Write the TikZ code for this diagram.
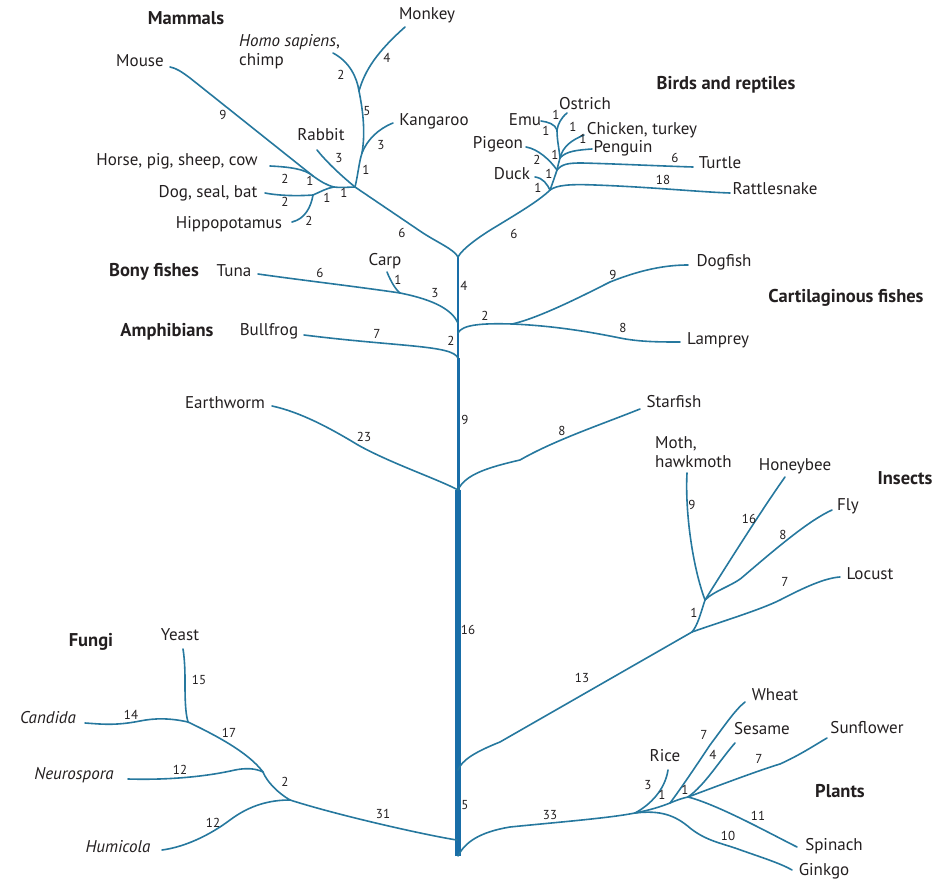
\documentclass[tikz,border=0pt]{standalone}
\usepackage{fontspec}
\setmainfont{PT Sans}
\definecolor{brc}{RGB}{38,120,158}
\definecolor{trc}{RGB}{25,110,168}
\definecolor{txc}{RGB}{35,31,32}
\begin{document}
\begin{tikzpicture}[x=1pt,y=-1pt,
  br/.style={draw=brc,line width=1.6pt,line cap=round},
  trunkseg/.style={draw=trc,line cap=butt},
  lf/.style={font=\fontsize{17}{19}\selectfont,anchor=mid,inner sep=0pt,text=txc},
  nm/.style={font=\fontsize{13}{14}\selectfont,anchor=mid,inner sep=0pt,text=txc},
  grp/.style={font=\bfseries\fontsize{18.5}{20}\selectfont,anchor=mid,inner sep=0pt,text=txc}]
\useasboundingbox (0,0) rectangle (943,882);
% ---------- trunk coordinates
\coordinate (T0) at (458,856);
\coordinate (Tf) at (457,840);
\coordinate (Ti) at (458,770);
\coordinate (Te) at (458,490);
\coordinate (Tbf) at (458,358);
\coordinate (Tc) at (458,333);
\coordinate (Tb) at (458,323);
\coordinate (Tv) at (458,257);
% ---------- mammals
\coordinate (M0) at (355,187);
\coordinate (Mk) at (362,153);
\coordinate (Mp) at (359,91);
\coordinate (Mh) at (313,176);
\coordinate (Md) at (334,187);
\coordinate (Mdh) at (313,195);
\coordinate (Ka) at (393,123);
\coordinate (Hs) at (333,53);
\coordinate (Mo) at (405,27);
\coordinate (Ra) at (317,150);
\coordinate (Mu) at (170,67);
\coordinate (Ho) at (270,166);
\coordinate (Dg) at (265,193);
\coordinate (Hp) at (292,222);
% ---------- birds
\coordinate (B0) at (550,190);
\coordinate (B1) at (557,170);
\coordinate (B2) at (560,158);
\coordinate (Eo) at (557,130);
\coordinate (Rs) at (730,193);
\coordinate (Dk) at (535,177);
\coordinate (Tu) at (693,167);
\coordinate (Pg) at (526,147);
\coordinate (Pe) at (592,149);
\coordinate (Ch) at (584,135);
\coordinate (Em) at (541,121);
\coordinate (Os) at (567,113);
% ---------- fishes, worm, starfish
\coordinate (Cj) at (400,293);
\coordinate (Tn) at (258,274);
\coordinate (Cp) at (387,272);
\coordinate (Bf) at (304,335);
\coordinate (Cc) at (512,324);
\coordinate (Df) at (688,265);
\coordinate (Lp) at (680,342);
\coordinate (Ew) at (272,406);
\coordinate (Sf) at (640,409);
% ---------- insects
\coordinate (Ih) at (692,632);
\coordinate (Is) at (705,600);
\coordinate (Lc) at (840,577);
\coordinate (Mt) at (687,473);
\coordinate (Hb) at (785,477);
\coordinate (Fl) at (832,510);
% ---------- fungi
\coordinate (Fh) at (290,800);
\coordinate (Fs) at (263,772);
\coordinate (Fy) at (188,722);
\coordinate (Hu) at (162,850);
\coordinate (Ne) at (128,779);
\coordinate (Ca) at (85,723);
\coordinate (Ye) at (183,649);
% ---------- plants
\coordinate (Ph) at (635,813);
\coordinate (Pw) at (670,803);
\coordinate (Pss) at (688,797);
\coordinate (Ri) at (668,770);
\coordinate (Wh) at (745,702);
\coordinate (Se) at (735,743);
\coordinate (Sn) at (827,738);
\coordinate (Sp) at (797,847);
\coordinate (Gk) at (792,870);

% ---------- trunk
\draw[trunkseg,line width=5.6pt] (T0) -- (Te);
\draw[trunkseg,line width=3pt] (Te) -- (Tbf);
\draw[trunkseg,line width=2.2pt] (Tbf) -- (Tv);

% ---------- mammal branches
\draw[br] (Tv) .. controls (454,249) and (436,242) .. (420,231) -- (M0);
\draw[br] (M0) .. controls (358,175) and (359,162) .. (Mk);
\draw[br] (Mk) .. controls (367,140) and (378,129) .. (Ka);
\draw[br] (Mk) .. controls (366,130) and (362,106) .. (Mp);
\draw[br] (Mp) .. controls (357,78) and (350,62) .. (Hs);
\draw[br] (Mp) .. controls (365,70) and (377,52) .. (Mo);
\draw[br] (M0) .. controls (338,173) and (325,160) .. (Ra);
\draw[br] (Mu) .. controls (176,68) and (182,72) .. (190,78) -- (Mh);
\draw[br] (Ho) .. controls (290,167) and (305,169) .. (Mh);
\draw[br] (Mh) .. controls (320,181) and (326,185) .. (Md);
\draw[br] (Dg) .. controls (280,196) and (300,196) .. (Mdh);
\draw[br] (Hp) .. controls (305,219) and (311,207) .. (Mdh);
\draw[br] (Mdh) .. controls (320,192) and (327,188) .. (Md);
\draw[br] (Md) .. controls (342,188) and (350,187) .. (M0);

% ---------- bird branches
\draw[br] (Tv) .. controls (462,249) and (480,236) .. (497,226) .. controls (520,212) and (540,200) .. (B0);
\draw[br] (B0) .. controls (557,185) and (570,184) .. (595,185) .. controls (650,187) and (700,192) .. (Rs);
\draw[br] (Dk) .. controls (543,178) and (547,184) .. (B0);
\draw[br] (B0) .. controls (553,182) and (555,176) .. (B1);
\draw[br] (B1) .. controls (562,164) and (568,163) .. (582,163) .. controls (620,164) and (660,166) .. (Tu);
\draw[br] (Pg) .. controls (538,149) and (550,160) .. (B1);
\draw[br] (B1) .. controls (558,165) and (559,162) .. (B2);
\draw[br] (Pe) .. controls (578,150) and (566,151) .. (B2);
\draw[br] (Ch) .. controls (572,140) and (563,146) .. (B2);
\draw[br] (B2) .. controls (559,148) and (557,140) .. (Eo);
\draw[br] (Em) .. controls (548,122) and (555,124) .. (Eo);
\draw[br] (Os) .. controls (561,118) and (558,124) .. (Eo);

% ---------- fishes
\draw[br] (Tn) .. controls (300,280) and (360,287) .. (Cj);
\draw[br] (Cp) .. controls (391,282) and (396,290) .. (Cj);
\draw[br] (Cj) .. controls (435,300) and (452,310) .. (Tb);
\draw[br] (Bf) .. controls (400,347) and (452,345) .. (Tbf);
\draw[br] (Tc) .. controls (462,325) and (480,323) .. (Cc);
\draw[br] (Cc) .. controls (540,318) and (590,292) .. (610,282) .. controls (640,270) and (665,265) .. (Df);
\draw[br] (Cc) .. controls (560,326) and (600,334) .. (620,338) .. controls (640,342) and (660,342) .. (Lp);
\draw[br] (Ew) .. controls (300,412) and (330,428) .. (358,445) .. controls (390,463) and (440,480) .. (Te);
\draw[br] (Te) .. controls (465,474) and (490,467) .. (520,460) .. controls (555,440) and (600,425) .. (Sf);

% ---------- insects
\draw[br] (Ti) .. controls (462,760) and (475,752) .. (500,742) -- (Ih);
\draw[br] (Ih) .. controls (720,622) and (760,610) .. (780,600) .. controls (805,587) and (825,578) .. (Lc);
\draw[br] (Ih) .. controls (698,625) and (701,612) .. (Is);
\draw[br] (Is) .. controls (692,565) and (685,510) .. (Mt);
\draw[br] (Is) .. controls (730,560) and (765,505) .. (Hb);
\draw[br] (Is) .. controls (715,590) and (735,585) .. (745,575) .. controls (780,545) and (810,520) .. (Fl);

% ---------- fungi
\draw[br] (Tf) .. controls (430,836) and (340,816) .. (Fh);
\draw[br] (Fh) .. controls (270,800) and (250,805) .. (230,820) .. controls (210,835) and (185,847) .. (Hu);
\draw[br] (Fh) .. controls (278,793) and (267,782) .. (Fs);
\draw[br] (Fs) .. controls (255,768) and (245,768) .. (235,770) .. controls (200,778) and (160,780) .. (Ne);
\draw[br] (Fs) .. controls (248,752) and (215,735) .. (Fy);
\draw[br] (Fy) .. controls (170,718) and (155,718) .. (140,721) .. controls (115,726) and (100,724) .. (Ca);
\draw[br] (Fy) .. controls (185,712) and (185,695) .. (185,680) .. controls (185,665) and (184,655) .. (Ye);

% ---------- plants
\draw[br] (T0) .. controls (465,842) and (480,832) .. (510,827) .. controls (560,822) and (610,818) .. (Ph);
\draw[br] (Ph) .. controls (650,805) and (665,790) .. (Ri);
\draw[br] (Ph) .. controls (650,810) and (660,807) .. (Pw);
\draw[br] (Pw) .. controls (680,790) and (700,760) .. (710,745) .. controls (725,725) and (735,710) .. (Wh);
\draw[br] (Pw) .. controls (677,800) and (683,798) .. (Pss);
\draw[br] (Pss) .. controls (705,785) and (720,760) .. (Se);
\draw[br] (Pss) .. controls (720,785) and (760,770) .. (780,764) .. controls (800,755) and (815,745) .. (Sn);
\draw[br] (Pss) .. controls (700,800) and (720,808) .. (750,823) .. controls (770,833) and (785,841) .. (Sp);
\draw[br] (Ph) .. controls (660,810) and (675,815) .. (690,828) .. controls (705,840) and (720,843) .. (735,848) .. controls (760,857) and (780,863) .. (Gk);

% ---------- group labels
\node[grp] (gmam) at (186,22) {Mammals};
\node[grp] (gbird) at (726,87) {Birds and reptiles};
\node[grp] (gbony) at (154,274) {Bony fishes};
\node[grp] (gamph) at (167,334) {Amphibians};
\node[grp] (gcart) at (846,300) {Cartilaginous fishes};
\node[grp] (gins) at (905,482) {Insects};
\node[grp] (gfun) at (91,644) {Fungi};
\node[grp] (gpla) at (840,795) {Plants};

% ---------- leaf labels
\node[lf] (lmonkey) at (427,17) {Monkey};
\node[lf,align=left,anchor=west] (lhomo) at (239,52) {\textit{Homo sapiens},\\chimp};
\node[lf] (lmouse) at (140,64) {Mouse};
\node[lf] (lkang) at (434,123) {Kangaroo};
\node[lf] (lrabbit) at (321,138) {Rabbit};
\node[lf] (lhorse) at (177,163) {Horse, pig, sheep, cow};
\node[lf] (ldog) at (208,195) {Dog, seal, bat};
\node[lf] (lhippo) at (229,226) {Hippopotamus};
\node[lf] (lostrich) at (585,107) {Ostrich};
\node[lf] (lemu) at (525,123) {Emu};
\node[lf] (lchick) at (642,132) {Chicken, turkey};
\node[lf] (lpeng) at (623,150) {Penguin};
\node[lf] (lturtle) at (720,166) {Turtle};
\node[lf] (lpigeon) at (498,146) {Pigeon};
\node[lf] (lduck) at (512,177) {Duck};
\node[lf] (lrattle) at (775,192) {Rattlesnake};
\node[lf] (ltuna) at (234,274) {Tuna};
\node[lf] (lcarp) at (385,263) {Carp};
\node[lf] (lbull) at (269,333) {Bullfrog};
\node[lf] (ldog2) at (724,264) {Dogfish};
\node[lf] (llamp) at (718,342) {Lamprey};
\node[lf] (learth) at (225,406) {Earthworm};
\node[lf] (lstar) at (674,405) {Starfish};
\node[lf,align=left,anchor=west] (lmoth) at (655,452) {Moth,\\hawkmoth};
\node[lf] (lbee) at (795,468) {Honeybee};
\node[lf] (lfly) at (848,508) {Fly};
\node[lf] (llocust) at (870,577) {Locust};
\node[lf] (lyeast) at (180,638) {Yeast};
\node[lf] (lcand) at (48,721) {\textit{Candida}};
\node[lf] (lneuro) at (74,777) {\textit{Neurospora}};
\node[lf] (lhumi) at (118,850) {\textit{Humicola}};
\node[lf] (lrice) at (665,759) {Rice};
\node[lf] (lwheat) at (775,698) {Wheat};
\node[lf] (lses) at (762,732) {Sesame};
\node[lf] (lsun) at (867,731) {Sunflower};
\node[lf] (lspin) at (834,848) {Spinach};
\node[lf] (lgink) at (824,873) {Ginkgo};

% ---------- branch lengths
\node[nm] (n1) at (223,117) {9};
\node[nm] (n2) at (339,160) {3};
\node[nm] (n3) at (366,172) {1};
\node[nm] (n4) at (381,147) {3};
\node[nm] (n5) at (367,113) {5};
\node[nm] (n6) at (341,77) {2};
\node[nm] (n7) at (387,60) {4};
\node[nm] (n8) at (285,181) {2};
\node[nm] (n9) at (310,183) {1};
\node[nm] (n10) at (285,204) {2};
\node[nm] (n11) at (327,200) {1};
\node[nm] (n12) at (344,195) {1};
\node[nm] (n13) at (309,223) {2};
\node[nm] (n14) at (402,235) {6};
\node[nm] (n15) at (514,236) {6};
\node[nm] (n16) at (556,117) {1};
\node[nm] (n17) at (546,133) {1};
\node[nm] (n18) at (573,129) {1};
\node[nm] (n19) at (583,141) {1};
\node[nm] (n20) at (555,157) {1};
\node[nm] (n21) at (549,176) {1};
\node[nm] (n22) at (538,190) {1};
\node[nm] (n23) at (537,162) {2};
\node[nm] (n24) at (675,160) {6};
\node[nm] (n25) at (663,182) {18};
\node[nm] (n26) at (464,288) {4};
\node[nm] (n27) at (451,343) {2};
\node[nm] (n28) at (465,422) {9};
\node[nm] (n29) at (468,632) {16};
\node[nm] (n30) at (465,807) {5};
\node[nm] (n31) at (320,275) {6};
\node[nm] (n32) at (398,282) {1};
\node[nm] (n33) at (435,295) {3};
\node[nm] (n34) at (377,336) {7};
\node[nm] (n35) at (485,318) {2};
\node[nm] (n36) at (613,277) {9};
\node[nm] (n37) at (623,330) {8};
\node[nm] (n38) at (364,439) {23};
\node[nm] (n39) at (562,433) {8};
\node[nm] (n40) at (582,680) {13};
\node[nm] (n41) at (694,615) {1};
\node[nm] (n42) at (692,507) {9};
\node[nm] (n43) at (749,521) {16};
\node[nm] (n44) at (783,537) {8};
\node[nm] (n45) at (785,584) {7};
\node[nm] (n46) at (383,816) {31};
\node[nm] (n47) at (213,825) {12};
\node[nm] (n48) at (285,784) {2};
\node[nm] (n49) at (180,772) {12};
\node[nm] (n50) at (229,735) {17};
\node[nm] (n51) at (131,717) {14};
\node[nm] (n52) at (199,682) {15};
\node[nm] (n53) at (550,817) {33};
\node[nm] (n54) at (648,787) {3};
\node[nm] (n55) at (662,797) {1};
\node[nm] (n56) at (704,737) {7};
\node[nm] (n57) at (685,792) {1};
\node[nm] (n58) at (713,757) {4};
\node[nm] (n59) at (759,761) {7};
\node[nm] (n60) at (758,818) {11};
\node[nm] (n61) at (728,838) {10};
\end{tikzpicture}
\end{document}
